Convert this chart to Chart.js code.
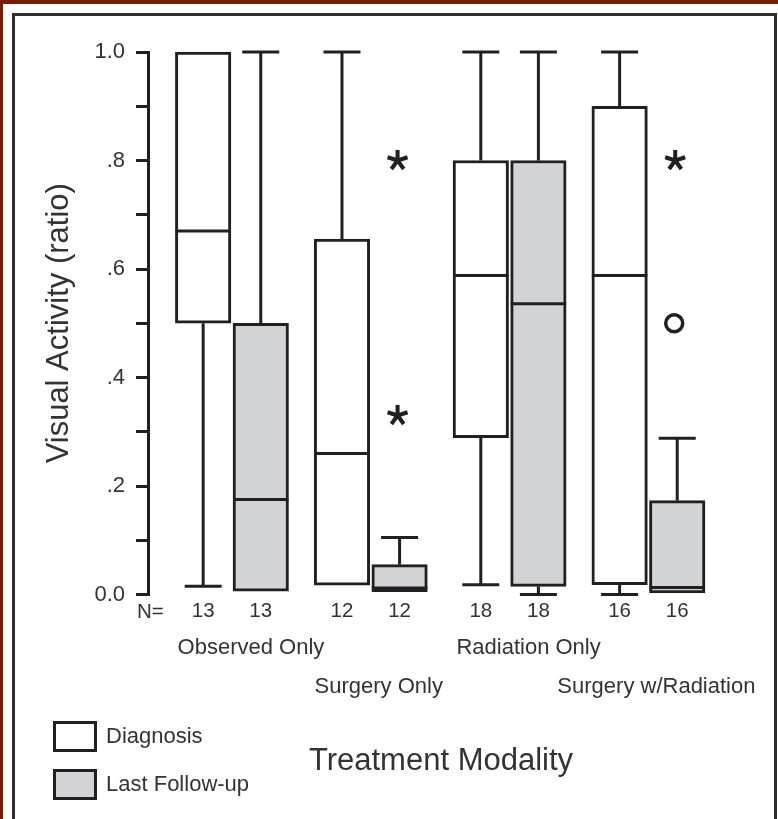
<!DOCTYPE html>
<html>
<head>
<meta charset="utf-8">
<title>Visual Activity by Treatment Modality</title>
<script src="https://cdn.jsdelivr.net/npm/chart.js@4.4.1/dist/chart.umd.min.js"></script>
<style>
  html, body { margin: 0; padding: 0; background: #fff; }
  body { width: 778px; height: 819px; overflow: hidden; position: relative; }
  .edge-top { position: absolute; left: 0; top: 0; width: 778px; height: 4px; background: #7a1c04; }
  .edge-left { position: absolute; left: 0; top: 0; width: 3px; height: 819px; background: #7a1c04; }
  .frame { position: absolute; left: 12px; top: 13px; width: 759px; height: 900px; border: 3px solid #2e2e2e; }
  #wrap { position: absolute; left: 0; top: 0; width: 778px; height: 819px; }
</style>
</head>
<body>
<div class="edge-top"></div>
<div class="edge-left"></div>
<div class="frame"></div>
<div id="wrap"><canvas id="boxChart" width="778" height="819"></canvas></div>
<script>
const groups = ["Observed Only", "Surgery Only", "Radiation Only", "Surgery w/Radiation"];
const seriesNames = ["Diagnosis", "Last Follow-up"];

// each row: [min, q1, median, q3, max]
const diagnosisStats = [
  [0.015, 0.5, 0.67, 1.0, 1.0],
  [0.017, 0.017, 0.26, 0.655, 1.0],
  [0.018, 0.289, 0.588, 0.8, 1.0],
  [0.0, 0.018, 0.588, 0.9, 1.0],
];
const followUpStats = [
  [0.006, 0.006, 0.175, 0.5, 1.0],
  [0.005, 0.005, 0.012, 0.055, 0.105],
  [0.0, 0.015, 0.536, 0.8, 1.0],
  [0.0, 0.0, 0.013, 0.173, 0.288],
];
const diagnosisN = [13, 12, 18, 16];
const followUpN = [13, 12, 18, 16];

// [group, series, value]
const extremeValues = [[1, 1, 0.8], [1, 1, 0.33], [3, 1, 0.8]];
const outlierValues = [[3, 1, 0.5]];

const yTickValues = [0, 0.2, 0.4, 0.6, 0.8, 1.0];
const yTickLabels = ["0.0", ".2", ".4", ".6", ".8", "1.0"];

const ink = "#231f20";
const textColor = "#333333";
const family = "'Liberation Sans', Arial, sans-serif";

const boxData = (stats) => stats.map((s, i) => ({ x: i, y: [s[1], s[3]] }));

function hline(ctx, x1, x2, y) {
  ctx.beginPath();
  ctx.moveTo(x1, y);
  ctx.lineTo(x2, y);
  ctx.stroke();
}

function vline(ctx, x, y1, y2) {
  ctx.beginPath();
  ctx.moveTo(x, y1);
  ctx.lineTo(x, y2);
  ctx.stroke();
}

function asterisk(ctx, cx, cy, r) {
  ctx.beginPath();
  for (let k = 0; k < 5; k++) {
    const a = -Math.PI / 2 + (k * 2 * Math.PI) / 5;
    ctx.moveTo(cx, cy);
    ctx.lineTo(cx + r * Math.cos(a), cy + r * Math.sin(a));
  }
  ctx.stroke();
}

const boxPlugin = {
  id: "boxWhiskers",
  afterDatasetsDraw(chart) {
    const { ctx } = chart;
    const y = chart.scales.y;
    const capHalf = 18.5;

    ctx.save();
    ctx.strokeStyle = ink;
    ctx.lineWidth = 3;
    ctx.lineCap = "butt";

    chart.data.datasets.forEach((ds, di) => {
      const meta = chart.getDatasetMeta(di);
      ds.stats.forEach((s, i) => {
        const bar = meta.data[i];
        const cx = bar.x;
        const half = bar.width / 2;
        const [mn, q1, med, q3, mx] = s;

        hline(ctx, cx - half, cx + half, y.getPixelForValue(med));

        if (mx > q3) {
          vline(ctx, cx, y.getPixelForValue(q3), y.getPixelForValue(mx));
          hline(ctx, cx - capHalf, cx + capHalf, y.getPixelForValue(mx));
        }
        if (mn < q1) {
          vline(ctx, cx, y.getPixelForValue(q1), y.getPixelForValue(mn));
          hline(ctx, cx - capHalf, cx + capHalf, y.getPixelForValue(mn));
        }
      });
    });

    // extreme values and outliers
    ctx.lineWidth = 4;
    extremeValues.forEach(([g, si, v]) => {
      const bar = chart.getDatasetMeta(si).data[g];
      asterisk(ctx, bar.x - 2, y.getPixelForValue(v), 10.5);
    });
    ctx.lineWidth = 3.5;
    outlierValues.forEach(([g, si, v]) => {
      const bar = chart.getDatasetMeta(si).data[g];
      ctx.beginPath();
      ctx.arc(bar.x - 3, y.getPixelForValue(v), 8.5, 0, Math.PI * 2);
      ctx.fillStyle = "#fff";
      ctx.fill();
      ctx.stroke();
    });

    // N counts
    ctx.fillStyle = textColor;
    ctx.font = "20.5px " + family;
    ctx.textBaseline = "alphabetic";
    ctx.textAlign = "left";
    ctx.fillText("N=", 137, 618);
    ctx.textAlign = "center";
    chart.data.datasets.forEach((ds, di) => {
      const meta = chart.getDatasetMeta(di);
      ds.n.forEach((n, i) => ctx.fillText(String(n), meta.data[i].x, 617));
    });

    // group labels, staggered in two rows
    ctx.font = "22px " + family;
    groups.forEach((label, i) => {
      const a = chart.getDatasetMeta(0).data[i].x;
      const b = chart.getDatasetMeta(1).data[i].x;
      const mid = (a + b) / 2;
      if (i % 2 === 0) ctx.fillText(label, mid + 19, 654);
      else ctx.fillText(label, mid + 8, 693);
    });

    // x axis title
    ctx.font = "31px " + family;
    ctx.fillText("Treatment Modality", 441, 770);

    // legend
    const fills = chart.data.datasets.map((ds) => ds.backgroundColor);
    ctx.textAlign = "left";
    ctx.font = "22px " + family;
    seriesNames.forEach((name, i) => {
      const top = 721 + i * 48;
      ctx.fillStyle = ink;
      ctx.fillRect(53, top, 44, 31);
      ctx.fillStyle = fills[i];
      ctx.fillRect(56, top + 3, 38, 25);
      ctx.fillStyle = textColor;
      ctx.fillText(name, 106, top + 22);
    });

    ctx.restore();
  },
};

new Chart(document.getElementById("boxChart"), {
  type: "bar",
  data: {
    datasets: [
      {
        label: seriesNames[0],
        data: boxData(diagnosisStats),
        backgroundColor: "#ffffff",
        stats: diagnosisStats,
        n: diagnosisN,
      },
      {
        label: seriesNames[1],
        data: boxData(followUpStats),
        backgroundColor: "#d1d3d4",
        stats: followUpStats,
        n: followUpN,
      },
    ],
  },
  options: {
    responsive: false,
    animation: false,
    layout: { padding: { left: 0, top: 52, right: 18, bottom: 224.5 } },
    datasets: {
      bar: {
        borderColor: ink,
        borderWidth: 3,
        borderSkipped: false,
        barThickness: 57.6,
        maxBarThickness: 55.5,
        clip: false,
      },
    },
    plugins: { legend: { display: false }, tooltip: { enabled: false } },
    scales: {
      x: {
        type: "linear",
        display: false,
        offset: false,
        grid: { offset: false },
        min: -0.6048,
        max: 3.8038,
      },
      y: {
        min: 0,
        max: 1,
        afterFit: (scale) => {
          scale.width = 148;
        },
        ticks: {
          stepSize: 0.1,
          autoSkip: false,
          padding: 11,
          color: textColor,
          font: { family: family, size: 22 },
          callback: (v) => {
            const k = yTickValues.findIndex((t) => Math.abs(t - v) < 1e-6);
            return k >= 0 ? yTickLabels[k] : "";
          },
        },
        grid: {
          drawOnChartArea: false,
          drawTicks: true,
          tickLength: 12,
          color: ink,
          lineWidth: 3,
        },
        border: { display: true, color: ink, width: 3 },
        title: {
          display: true,
          text: "Visual Activity (ratio)",
          color: textColor,
          font: { family: family, size: 31 },
          padding: { top: 41, bottom: 0 },
        },
      },
    },
  },
  plugins: [boxPlugin],
});
</script>
</body>
</html>
